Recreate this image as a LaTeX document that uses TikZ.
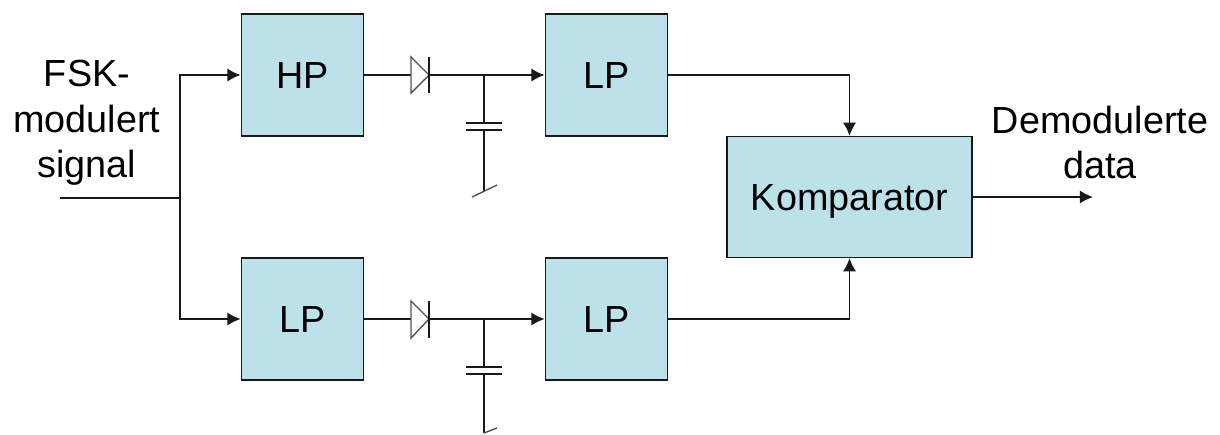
\documentclass[tikz,border=0pt]{standalone}
\usepackage{fontspec}
\setmainfont{Liberation Sans}
\usetikzlibrary{arrows.meta}
\definecolor{boxblue}{RGB}{189,225,232}
\definecolor{wirecol}{RGB}{25,25,25}
\begin{document}
\begin{tikzpicture}[x=0.02cm, y=-0.02cm,
    block/.style={draw=wirecol, fill=boxblue, line width=0.8pt, inner sep=0pt, text height=19pt, text depth=4.2pt, font=\fontsize{21.5}{24}\selectfont},
    wire/.style={line width=0.8pt, wirecol},
    arrowwire/.style={wire, -{Latex[length=7.5pt, width=7.5pt]}},
    part/.style={line width=0.8pt, wirecol!75},
    caption/.style={align=center, inner sep=0pt, font=\fontsize{21.5}{25.8}\selectfont}]
  \useasboundingbox (0,0) rectangle (1220,434);
  % blocks
  \node[block, minimum width=2.45cm, minimum height=2.44cm] (hp) at (302.5,75) {HP};
  \node[block, minimum width=2.45cm, minimum height=2.44cm] (lpa) at (606.5,75) {LP};
  \node[block, minimum width=2.45cm, minimum height=2.44cm] (lpb) at (302.5,319) {LP};
  \node[block, minimum width=2.45cm, minimum height=2.44cm] (lpc) at (606.5,319) {LP};
  \node[block, minimum width=4.9cm, minimum height=2.42cm] (komp) at (849.5,197) {Komparator};
  \node[caption] (inn) at (87,123) {FSK-\\modulert\\signal};
  \node[caption] (ut) at (1100,142.5) {Demodulerte\\data};
  % free ends
  \coordinate (start) at (60,198);
  \coordinate (split) at (180,198);
  \coordinate (slutt) at (1093,197);
  % input
  \draw[wire] (start) -- (split);
  \draw[arrowwire] (split) |- (hp.west);
  \draw[arrowwire] (split) |- (lpb.west);
  % upper branch
  \coordinate (da) at (411,75);
  \coordinate (ka) at (429,75);
  \coordinate (ja) at (484,75);
  \draw[wire] (hp.east) -- (da);
  \draw[part] (411,57) -- (411,93) -- (ka) -- cycle;
  \draw[wire] (429,57) -- (429,93);
  \draw[arrowwire] (ka) -- (lpa.west);
  \coordinate (ca) at (484,123);
  \coordinate (cb) at (484,130);
  \coordinate (ga) at (484,191);
  \draw[wire] (ja) -- (ca) (466,123) -- (502,123) (466,130) -- (502,130) (cb) -- (ga);
  \draw[part] (472,197) -- (497,185);
  % lower branch
  \coordinate (db) at (411,319);
  \coordinate (kb) at (429,319);
  \coordinate (jb) at (484,319);
  \draw[wire] (lpb.east) -- (db);
  \draw[part] (411,301) -- (411,338) -- (kb) -- cycle;
  \draw[wire] (429,301) -- (429,338);
  \draw[arrowwire] (kb) -- (lpc.west);
  \coordinate (cc) at (484,367);
  \coordinate (cd) at (484,374);
  \coordinate (gb) at (484,433);
  \draw[wire] (jb) -- (cc) (466,367) -- (502,367) (466,374) -- (502,374) (cd) -- (gb);
  \draw[part] (484,433) -- (497,428);
  % to comparator
  \draw[arrowwire] (lpa.east) -| (komp.north);
  \draw[arrowwire] (lpc.east) -| (komp.south);
  \draw[arrowwire] (komp.east) -- (slutt);
\end{tikzpicture}
\end{document}
